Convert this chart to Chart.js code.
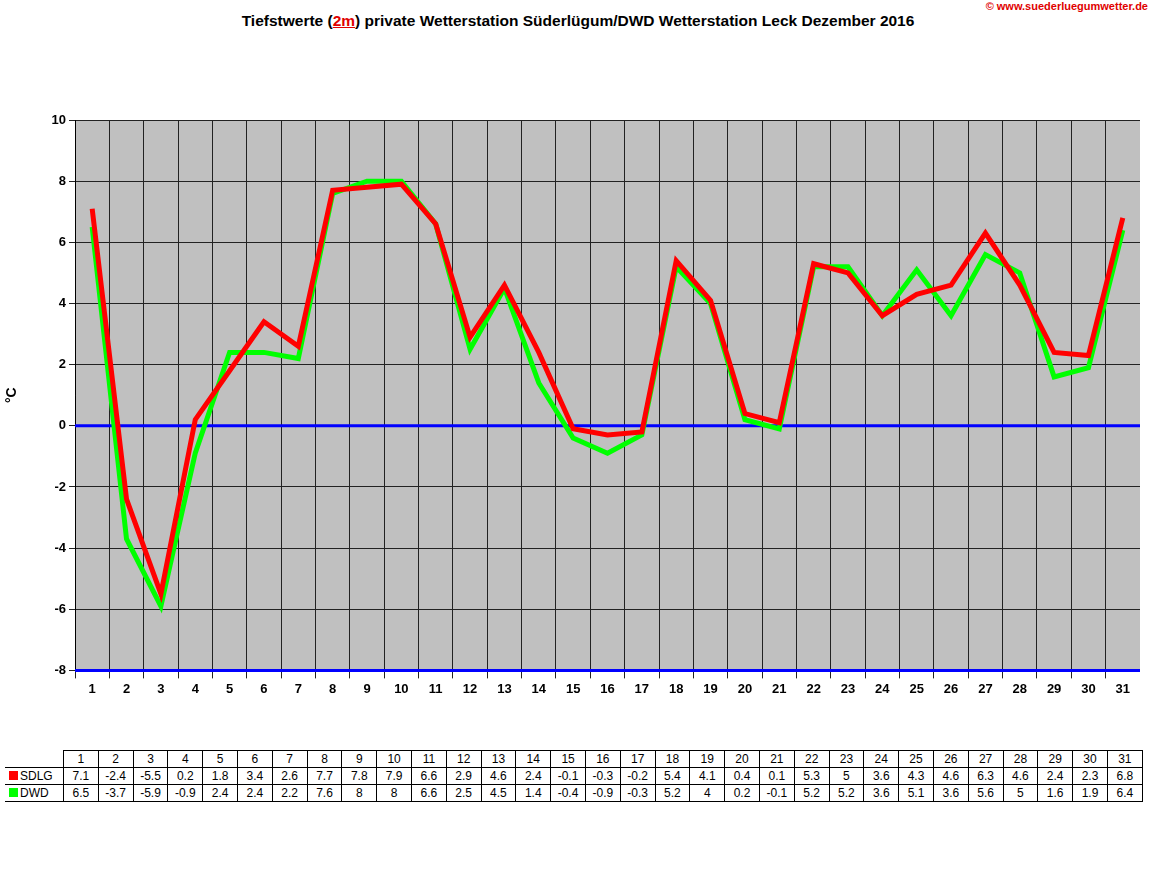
<!DOCTYPE html>
<html>
<head>
<meta charset="utf-8">
<script src="https://cdn.jsdelivr.net/npm/chart.js@4"></script>
<style>
  body { margin: 0; background: #fff; font-family: Arial, "Liberation Sans", sans-serif; }
  #title { position: absolute; left: 0; top: 12px; width: 1156px; text-align: center; font-size: 15.5px; font-weight: bold; }
  #title u { color: #e00000; }
  #url { position: absolute; right: 4px; top: 0; font-size: 11px; color: #e00000; font-weight: bold; }
  #wrap { position: absolute; left: 0; top: 100px; width: 1140px; height: 600px; }
  table { position: absolute; left: 5px; top: 750px; border-collapse: collapse; font-size: 12px; }
  td { border: 1px solid #000; height: 16px; padding: 0; text-align: center; width: 33.8px; }
  td.lab { width: 58px; text-align: left; border-left: none; border-top: none; }
  .sw { display: inline-block; width: 9px; height: 9px; margin: 0 2px 0 4px; }
</style>
</head>
<body>
<div id="title">Tiefstwerte (<u>2m</u>) private Wetterstation Süderlügum/DWD Wetterstation Leck Dezember 2016</div>
<div id="url">© www.suederluegumwetter.de</div>
<div id="wrap"><canvas id="c"></canvas></div>
<table id="tbl"></table>
<script>
// ===== DATEN =====
const days = Array.from({ length: 31 }, function(_, i) { return String(i + 1); });
const sdlg = [7.1, -2.4, -5.5, 0.2, 1.8, 3.4, 2.6, 7.7, 7.8, 7.9, 6.6, 2.9, 4.6, 2.4, -0.1, -0.3, -0.2, 5.4, 4.1, 0.4, 0.1, 5.3, 5, 3.6, 4.3, 4.6, 6.3, 4.6, 2.4, 2.3, 6.8];
const dwd = [6.5, -3.7, -5.9, -0.9, 2.4, 2.4, 2.2, 7.6, 8, 8, 6.6, 2.5, 4.5, 1.4, -0.4, -0.9, -0.3, 5.2, 4, 0.2, -0.1, 5.2, 5.2, 3.6, 5.1, 3.6, 5.6, 5, 1.6, 1.9, 6.4];
const yTicks = [-8, -6, -4, -2, 0, 2, 4, 6, 8, 10];

// ===== TABELLE =====
const tbl = document.getElementById('tbl');
function row(label, vals, color) {
  let html = '<tr><td class="lab">' + (color ? '<span class="sw" style="background:' + color + '"></span>' + label : '') + '</td>';
  vals.forEach(function(v) { html += '<td>' + v + '</td>'; });
  return html + '</tr>';
}
tbl.innerHTML = row('', days) + row('SDLG', sdlg, '#ff0000') + row('DWD', dwd, '#00ff00');

// ===== HINTERGRUND & NULLLINIE =====
const bgPlugin = {
  id: 'bg',
  beforeDraw: function(chart) {
    const a = chart.chartArea, ctx = chart.ctx;
    ctx.save();
    ctx.fillStyle = '#c0c0c0';
    ctx.fillRect(a.left, a.top, a.right - a.left, a.bottom - a.top);
    ctx.restore();
  },
  beforeDatasetsDraw: function(chart) {
    const a = chart.chartArea, ctx = chart.ctx, y = chart.scales.y;
    ctx.save();
    ctx.strokeStyle = '#0000ff';
    ctx.lineWidth = 3;
    [0, -8].forEach(function(v) {
      const py = y.getPixelForValue(v);
      ctx.beginPath(); ctx.moveTo(a.left, py); ctx.lineTo(a.right, py); ctx.stroke();
    });
    ctx.restore();
  }
};

new Chart(document.getElementById('c'), {
  type: 'line',
  data: {
    labels: days,
    datasets: [
      { label: 'DWD', data: dwd, borderColor: '#00ff00', borderWidth: 5, pointRadius: 0, tension: 0, order: 2 },
      { label: 'SDLG', data: sdlg, borderColor: '#ff0000', borderWidth: 5, pointRadius: 0, tension: 0, order: 1 }
    ]
  },
  options: {
    responsive: true,
    maintainAspectRatio: false,
    animation: false,
    layout: { padding: { top: 20 } },
    plugins: { legend: { display: false }, tooltip: { enabled: false } },
    scales: {
      x: {
        offset: true,
        grid: { color: '#222', offset: true, tickLength: 8 },
        border: { color: '#000' },
        ticks: { color: '#000', font: { size: 13, weight: 'bold' }, maxRotation: 0 }
      },
      y: {
        min: -8, max: 10,
        afterBuildTicks: function(s) { s.ticks = yTicks.map(function(v) { return { value: v }; }); },
        afterFit: function(s) { s.width = 75; },
        grid: { color: '#222', tickLength: 6 },
        border: { color: '#000' },
        title: { display: true, text: '°C', color: '#000', font: { size: 14, weight: 'bold' } },
        ticks: { color: '#000', font: { size: 13, weight: 'bold' } }
      }
    }
  },
  plugins: [bgPlugin]
});
</script>
</body>
</html>
